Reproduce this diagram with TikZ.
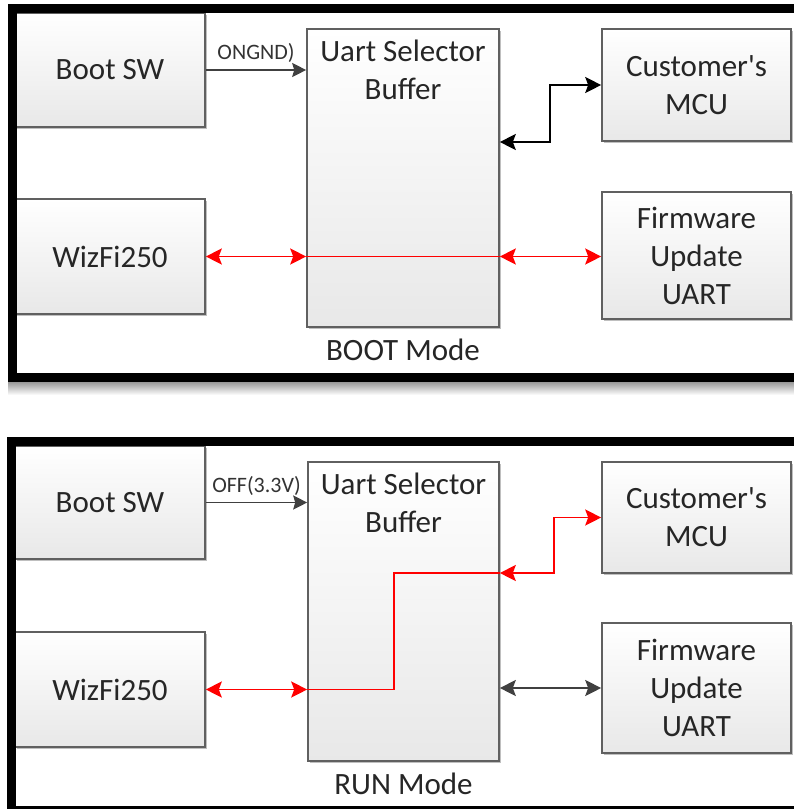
\documentclass[tikz,border=0pt]{standalone}
\usepackage{fontspec}
\setmainfont{Carlito}
\usetikzlibrary{positioning}
\usetikzlibrary{arrows.meta}
\usetikzlibrary{shadows}
\definecolor{edgeGray}{HTML}{404040}
\definecolor{boxLine}{HTML}{606060}
\definecolor{activeRed}{rgb}{1,0,0}

\begin{document}
\begin{tikzpicture}[x=1pt,y=-1pt,>={Stealth[length=16pt,width=16pt,inset=3pt]}]

          \tikzstyle{blockNode} = [draw=boxLine,line width=1.6pt,top color=white,bottom color=black!9,
            drop shadow={shadow xshift=2pt,shadow yshift=-2pt,opacity=0.25,fill=black},
            align=center,font=\fontsize{31}{38}\selectfont,text=black!85];
          \tikzstyle{signalEdge} = [edgeGray,line width=1.6pt];
          \tikzstyle{activeEdge} = [activeRed,line width=1.8pt];
          \tikzstyle{modeFrame} = [line width=9pt];
          \tikzstyle{tagLabel} = [font=\fontsize{22}{26}\selectfont,text=black!80,above=3pt];
          \tikzstyle{modeLabel} = [font=\fontsize{31}{38}\selectfont,text=black!85];

          \useasboundingbox (0,0) rectangle (794,809);

          % BOOT Mode
          \shade[top color=black!40,bottom color=white] (8,382) rectangle (800,395);

          \node[blockNode,minimum width=190pt,minimum height=114pt] (bootA) at (110,70) {Boot SW};
          \node[blockNode,minimum width=190pt,minimum height=115pt] (wizA) at (110,256.5) {WizFi250};
          \node[blockNode,minimum width=192pt,minimum height=298pt,
            label={[modeLabel,anchor=north,align=center,yshift=-8pt]north:Uart Selector\\Buffer}] (selA) at (403,178) {};
          \node[blockNode,minimum width=189pt,minimum height=112pt] (mcuA) at (696.5,85) {Customer\textquotesingle s\\MCU};
          \node[blockNode,minimum width=189pt,minimum height=127pt] (firmA) at (696.5,255.5) {Firmware\\Update\\UART};
          \node[modeLabel,below=8pt of selA] (modeA) {BOOT Mode};

          \draw[signalEdge,-{Stealth[length=14pt,width=14pt,inset=2pt]}] (bootA.east) -- (bootA.east -| selA.west)
            node[tagLabel,midway] {ONGND)};
          \draw[black,line width=1.8pt,<->] (selA.east |- 0,142) -- (550,142) |- (mcuA.west);
          \draw[activeEdge,<->] (wizA.east) -- (wizA.east -| selA.west);
          \draw[activeRed,line width=1.2pt] (wizA.east -| selA.west) -- (wizA.east -| selA.east);
          \draw[activeEdge,<->] (wizA.east -| selA.east) -- (wizA.east -| firmA.west);

          \draw[modeFrame] (12,8.5) rectangle (810,377.5);

          % RUN Mode
          \node[blockNode,minimum width=190pt,minimum height=113pt] (bootB) at (110,502.5) {Boot SW};
          \node[blockNode,minimum width=190pt,minimum height=115pt] (wizB) at (110,689.5) {WizFi250};
          \node[blockNode,minimum width=191pt,minimum height=299pt,
            label={[modeLabel,anchor=north,align=center,yshift=-8pt]north:Uart Selector\\Buffer}] (selB) at (403.5,611.5) {};
          \node[blockNode,minimum width=189pt,minimum height=111pt] (mcuB) at (696.5,517.5) {Customer\textquotesingle s\\MCU};
          \node[blockNode,minimum width=189pt,minimum height=130pt] (firmB) at (696.5,688) {Firmware\\Update\\UART};
          \node[modeLabel,below=8pt of selB] (modeB) {RUN Mode};

          \draw[signalEdge,-{Stealth[length=14pt,width=14pt,inset=2pt]}] (bootB.east) -- (bootB.east -| selB.west)
            node[tagLabel,midway] {OFF(3.3V)};
          \draw[activeEdge,<->] (wizB.east) -- (wizB.east -| selB.west);
          \draw[activeRed,line width=1.4pt] (wizB.east -| selB.west) -- (394,689.5) -- (394,573) -- (selB.east |- 0,573);
          \draw[activeEdge,<->] (selB.east |- 0,573) -- (554,573) |- (mcuB.west);
          \draw[signalEdge,line width=1.8pt,<->] (selB.east |- firmB.west) -- (firmB.west);

          \draw[modeFrame] (11.5,441) rectangle (810,810);
        \end{tikzpicture}
\end{document}
